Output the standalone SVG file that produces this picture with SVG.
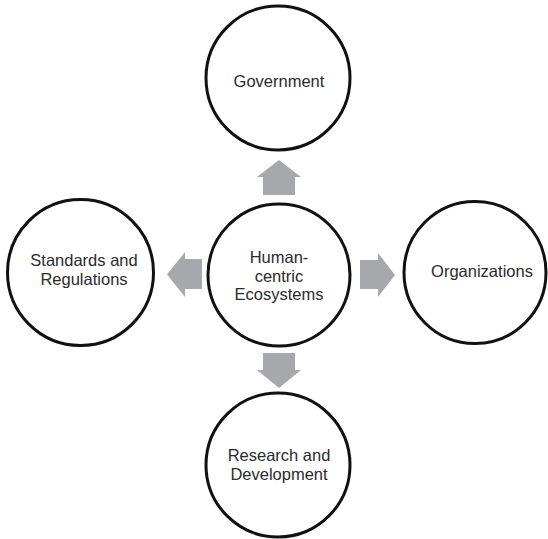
<svg xmlns="http://www.w3.org/2000/svg" width="548" height="539" viewBox="0 0 548 539">
  <style>
    .node circle { fill: #ffffff; stroke: #111111; stroke-width: 3; }
    .node text { font-family: "Liberation Sans", Arial, sans-serif; font-size: 16.5px; fill: #2b2b2b; text-anchor: middle; }
    .arrow { fill: #a7a8ab; }
  </style>
  <rect width="548" height="539" fill="#ffffff"/>

  <!-- block arrows radiating from the hub -->
  <g id="connectors">
    <path class="arrow" d="M263,195 L263,177 L257,177 L279,160 L301,177 L295,177 L295,195 Z"/>
    <path class="arrow" d="M263,353 L263,370 L257,370 L279,388 L301,370 L295,370 L295,353 Z"/>
    <path class="arrow" d="M202,259 L185,259 L185,252 L167,274.5 L185,297 L185,289 L202,289 Z"/>
    <path class="arrow" d="M360,260 L378,260 L378,253 L395,275 L378,297 L378,289 L360,289 Z"/>
  </g>

  <g id="hub" class="node">
    <circle cx="279" cy="275" r="71"/>
    <text x="279" y="263">Human-</text>
    <text x="279" y="281.5">centric</text>
    <text x="279" y="300">Ecosystems</text>
  </g>

  <g id="government" class="node">
    <circle cx="278" cy="78" r="72"/>
    <text x="279" y="87">Government</text>
  </g>

  <g id="standards" class="node">
    <circle cx="80.5" cy="272.5" r="73"/>
    <text x="84" y="266">Standards and</text>
    <text x="84" y="284.5">Regulations</text>
  </g>

  <g id="organizations" class="node">
    <circle cx="475" cy="272.5" r="71"/>
    <text x="482" y="277">Organizations</text>
  </g>

  <g id="research" class="node">
    <circle cx="278" cy="465" r="72"/>
    <text x="279" y="461">Research and</text>
    <text x="279" y="479.5">Development</text>
  </g>
</svg>
